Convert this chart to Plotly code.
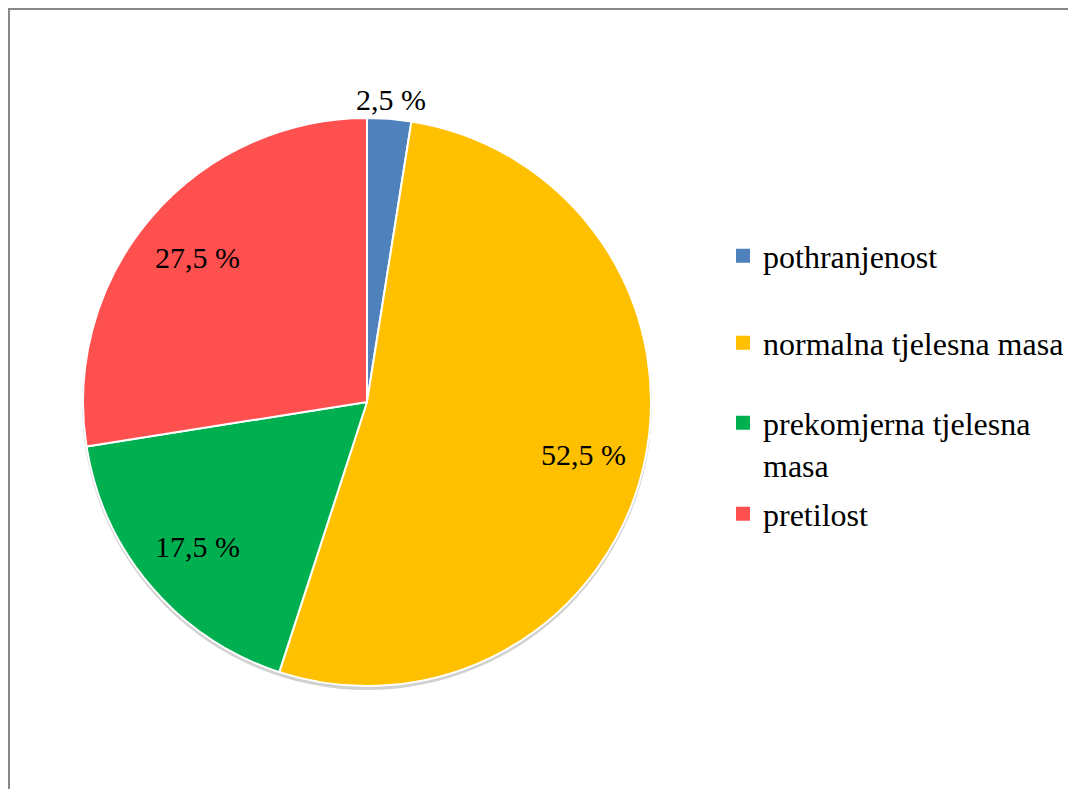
import math
import plotly.graph_objects as go

categories = ["pothranjenost", "normalna tjelesna masa", "prekomjerna tjelesna masa", "pretilost"]
legend_labels = ["pothranjenost", "normalna tjelesna masa", "prekomjerna tjelesna<br>masa", "pretilost"]
values = [2.5, 52.5, 17.5, 27.5]
colors = ["#4F81BD", "#FFC000", "#00B050", "#FF5050"]

W, H = 1076, 789
OFF = 8  # page body margin
cx, cy, R = 367 - OFF, 402 - OFF, 284
FONT = "'Times New Roman', 'Liberation Serif', 'DejaVu Serif', serif"

dom_x = [(cx - R) / W, (cx + R) / W]
dom_y = [1 - (cy + R) / H, 1 - (cy - R) / H]

fig = go.Figure()

fig.add_trace(go.Pie(
    labels=categories, values=values, sort=False, direction="clockwise", rotation=0,
    marker=dict(colors=colors, line=dict(color="white", width=2)),
    textinfo="none", hoverinfo="label+percent", showlegend=False,
    domain=dict(x=dom_x, y=dom_y),
))

# data labels placed along each slice bisector, computed from the values
total = sum(values)
cum = 0.0
annotations = []
for v in values:
    theta = (cum + v / 2) / total * 2 * math.pi
    cum += v
    f = 1.07 if v / total < 0.05 else 0.785
    px = cx + f * R * math.sin(theta)
    py = cy - f * R * math.cos(theta)
    annotations.append(dict(
        x=px / W, y=1 - py / H, xref="paper", yref="paper", showarrow=False,
        text=f"{v:.1f} %".replace(".", ","), font=dict(family=FONT, size=30, color="black"),
        xanchor="center", yanchor="middle",
    ))

# legend entries (one legend each, to reproduce the spacing)
legend_centers = [256 - OFF, 343 - OFF, 444 - OFF, 514 - OFF]
layout_legends = {}
for i, (lab, col) in enumerate(zip(legend_labels, colors)):
    key = "legend" if i == 0 else f"legend{i + 1}"
    fig.add_trace(go.Scatter(
        x=[None], y=[None], mode="markers", name=lab,
        marker=dict(symbol="square", size=14, color=col),
        legend=key, showlegend=True,
    ))
    layout_legends[key] = dict(
        x=(723 - OFF) / W, xanchor="left", y=1 - legend_centers[i] / H, yanchor="middle",
        font=dict(family=FONT, size=32, color="black"), bgcolor="rgba(0,0,0,0)",
        valign="top", itemclick=False, itemdoubleclick=False,
    )

shapes = [
    # soft shadow under the pie
    dict(type="circle", xref="paper", yref="paper", layer="below",
         x0=(cx - R - 1) / W, x1=(cx + R + 1) / W,
         y0=1 - (cy + R + 4) / H, y1=1 - (cy - R + 1) / H,
         fillcolor="rgba(0,0,0,0.18)", line=dict(width=0)),
    # chart border
    dict(type="rect", xref="paper", yref="paper",
         x0=1 / W, x1=1.2, y0=-0.2, y1=1 - 1 / H,
         line=dict(color="#878787", width=2), fillcolor="rgba(0,0,0,0)"),
]

fig.update_layout(
    width=W, height=H, margin=dict(l=0, r=0, t=0, b=0),
    font=dict(family=FONT, color="black"),
    paper_bgcolor="white", plot_bgcolor="white",
    xaxis=dict(visible=False), yaxis=dict(visible=False),
    annotations=annotations, shapes=shapes, **layout_legends,
)

fig.write_html("out.html")
